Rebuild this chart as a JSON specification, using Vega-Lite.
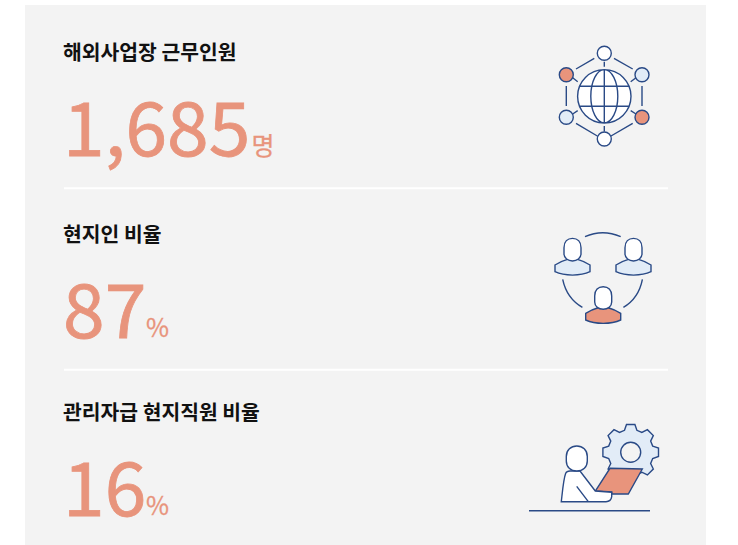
{"$schema":"https://vega.github.io/schema/vega-lite/v6.json","width":681,"height":540,"autosize":{"type":"none"},"padding":{"left":25,"top":5,"right":32,"bottom":0},"background":"#ffffff","view":{"fill":"#f3f3f3","stroke":null},"data":{"values":[{"order":1,"metric":"해외사업장 근무인원","value":1685,"unit":"명"},{"order":2,"metric":"현지인 비율","value":87,"unit":"%"},{"order":3,"metric":"관리자급 현지직원 비율","value":16,"unit":"%"}]},"encoding":{"y":{"field":"order","type":"quantitative","axis":null,"scale":{"domain":[1,2,3],"range":[55,236.5,414.5],"nice":false,"zero":false}}},"resolve":{"scale":{"x":"independent"}},"layer":[
{"transform":[{"filter":"datum.order<3"}],"mark":{"type":"rule","stroke":"#ffffff","strokeWidth":2,"yOffset":128.2},"encoding":{"x":{"datum":39,"type":"quantitative","axis":null,"scale":{"domain":[0,681],"range":[0,681]}},"x2":{"datum":643}}},
{"mark":{"type":"text","align":"left","baseline":"alphabetic","font":"Noto Sans CJK KR","fontSize":20.4,"fontWeight":700,"fill":"#111111"},"encoding":{"x":{"datum":38,"type":"quantitative","axis":null,"scale":{"domain":[0,681],"range":[0,681]}},"text":{"field":"metric"}}},
{"mark":{"type":"text","align":"left","baseline":"alphabetic","font":"Noto Sans CJK KR","fontSize":75,"fontWeight":400,"fill":"#e8947c","stroke":"#e8947c","strokeWidth":0.8,"dy":96},"encoding":{"x":{"datum":38,"type":"quantitative","axis":null,"scale":{"domain":[0,681],"range":[0,681]}},"text":{"field":"value","type":"quantitative","format":","}}},
{"mark":{"type":"text","align":"left","baseline":"alphabetic","font":"Noto Sans CJK KR","fontSize":25,"fontWeight":400,"fill":"#e8947c","stroke":"#e8947c","strokeWidth":0.3,"dy":95},"encoding":{"x":{"field":"value","type":"quantitative","axis":null,"scale":{"domain":[16,87,1685],"range":[121,121,226.5],"zero":false,"nice":false}},"text":{"field":"unit"}}},
{"transform":[{"filter":"datum.order===1"}],"mark":{"type":"point","size":4,"opacity":1,"filled":false,"stroke":"#2a4a86","strokeWidth":1.4,"yOffset":36.3,"shape":"M-10,-38L-28.3,-27.3M9.7,-38L28.4,-27.3M0,-34.6L0,-29.6M-31.6,-18.6L-26.6,-14.6M31.7,-18.6L26.4,-14.6M-38,-10.3L-38,9.7M37.7,-10.3L37.7,9.7M-31.6,17.7L-26.6,14.4M31.7,17.7L26.4,14.4M-7,39.7L-28.3,27M6.7,39.7L28.4,27M0,29.7L0,35.3"},"encoding":{"x":{"datum":579.3,"type":"quantitative","axis":null,"scale":{"domain":[0,681],"range":[0,681]}}}},
{"transform":[{"filter":"datum.order===1"}],"mark":{"type":"point","size":4,"opacity":1,"filled":true,"fill":"#ffffff","stroke":"#2a4a86","strokeWidth":1.4,"yOffset":36.3,"shape":"M-26.7,0A26.7,26.7 0 1 0 26.7,0A26.7,26.7 0 1 0 -26.7,0ZM0,-26.7A13.5,26.7 0 1 0 0,26.7A13.5,26.7 0 1 0 0,-26.7ZM0,-26.7L0,26.7M-24.8,-10L24.8,-10M-24.8,10L24.8,10"},"encoding":{"x":{"datum":579.3,"type":"quantitative","axis":null,"scale":{"domain":[0,681],"range":[0,681]}}}},
{"transform":[{"filter":"datum.order===1"}],"mark":{"type":"point","size":4,"opacity":1,"filled":true,"fill":"#ffffff","stroke":"#2a4a86","strokeWidth":1.4,"yOffset":36.3,"shape":"M-7,-43A7,7 0 1 0 7,-43A7,7 0 1 0 -7,-43ZM-7,42.7A7,7 0 1 0 7,42.7A7,7 0 1 0 -7,42.7Z"},"encoding":{"x":{"datum":579.3,"type":"quantitative","axis":null,"scale":{"domain":[0,681],"range":[0,681]}}}},
{"transform":[{"filter":"datum.order===1"}],"mark":{"type":"point","size":4,"opacity":1,"filled":true,"fill":"#e8947c","stroke":"#2a4a86","strokeWidth":1.4,"yOffset":36.3,"shape":"M-45,-21.6A7,7 0 1 0 -31,-21.6A7,7 0 1 0 -45,-21.6ZM30.7,21A7,7 0 1 0 44.7,21A7,7 0 1 0 30.7,21Z"},"encoding":{"x":{"datum":579.3,"type":"quantitative","axis":null,"scale":{"domain":[0,681],"range":[0,681]}}}},
{"transform":[{"filter":"datum.order===1"}],"mark":{"type":"point","size":4,"opacity":1,"filled":true,"fill":"#e2ecf7","stroke":"#2a4a86","strokeWidth":1.4,"yOffset":36.3,"shape":"M30.7,-21.6A7,7 0 1 0 44.7,-21.6A7,7 0 1 0 30.7,-21.6ZM-45,21A7,7 0 1 0 -31,21A7,7 0 1 0 -45,21Z"},"encoding":{"x":{"datum":579.3,"type":"quantitative","axis":null,"scale":{"domain":[0,681],"range":[0,681]}}}},
{"transform":[{"filter":"datum.order===2"}],"mark":{"type":"point","size":4,"opacity":1,"filled":false,"stroke":"#2a4a86","strokeWidth":1.4,"yOffset":35.2,"shape":"M-17.7,-40Q0,-48 18,-40M-40,2.7Q-36,21.7 -20.3,30.7M39.7,2.7Q36,21.7 20.7,30.7"},"encoding":{"x":{"datum":577.7,"type":"quantitative","axis":null,"scale":{"domain":[0,681],"range":[0,681]}}}},
{"transform":[{"filter":"datum.order===2"}],"mark":{"type":"point","size":4,"opacity":1,"filled":true,"fill":"#e2ecf7","stroke":"#2a4a86","strokeWidth":1.4,"yOffset":35.2,"xOffset":-30.2,"shape":"M-17.5,-11.7C-13,-14.5 -8,-16.5 -5,-17.3L5,-17.3C8,-16.5 13,-14.5 17.5,-11.7L17.5,-5C8,-0.5 -8,-0.5 -17.5,-5Z"},"encoding":{"x":{"datum":577.7,"type":"quantitative","axis":null,"scale":{"domain":[0,681],"range":[0,681]}}}},
{"transform":[{"filter":"datum.order===2"}],"mark":{"type":"point","size":4,"opacity":1,"filled":true,"fill":"#ffffff","stroke":"#2a4a86","strokeWidth":1.4,"yOffset":35.2,"xOffset":-30.2,"shape":"M-8.5,-29C-8.5,-35 -5,-38.3 0,-38.3C5,-38.3 8.5,-35 8.5,-29L8.5,-23C8.5,-18.5 4.5,-15.7 0,-15.7C-4.5,-15.7 -8.5,-18.5 -8.5,-23Z"},"encoding":{"x":{"datum":577.7,"type":"quantitative","axis":null,"scale":{"domain":[0,681],"range":[0,681]}}}},
{"transform":[{"filter":"datum.order===2"}],"mark":{"type":"point","size":4,"opacity":1,"filled":true,"fill":"#e2ecf7","stroke":"#2a4a86","strokeWidth":1.4,"yOffset":35.2,"xOffset":30.8,"shape":"M-17.5,-11.7C-13,-14.5 -8,-16.5 -5,-17.3L5,-17.3C8,-16.5 13,-14.5 17.5,-11.7L17.5,-5C8,-0.5 -8,-0.5 -17.5,-5Z"},"encoding":{"x":{"datum":577.7,"type":"quantitative","axis":null,"scale":{"domain":[0,681],"range":[0,681]}}}},
{"transform":[{"filter":"datum.order===2"}],"mark":{"type":"point","size":4,"opacity":1,"filled":true,"fill":"#ffffff","stroke":"#2a4a86","strokeWidth":1.4,"yOffset":35.2,"xOffset":30.8,"shape":"M-8.5,-29C-8.5,-35 -5,-38.3 0,-38.3C5,-38.3 8.5,-35 8.5,-29L8.5,-23C8.5,-18.5 4.5,-15.7 0,-15.7C-4.5,-15.7 -8.5,-18.5 -8.5,-23Z"},"encoding":{"x":{"datum":577.7,"type":"quantitative","axis":null,"scale":{"domain":[0,681],"range":[0,681]}}}},
{"transform":[{"filter":"datum.order===2"}],"mark":{"type":"point","size":4,"opacity":1,"filled":true,"fill":"#e8947c","stroke":"#2a4a86","strokeWidth":1.4,"yOffset":83.5,"xOffset":0.5,"shape":"M-17.5,-11.7C-13,-14.5 -8,-16.5 -5,-17.3L5,-17.3C8,-16.5 13,-14.5 17.5,-11.7L17.5,-5C8,-0.5 -8,-0.5 -17.5,-5Z"},"encoding":{"x":{"datum":577.7,"type":"quantitative","axis":null,"scale":{"domain":[0,681],"range":[0,681]}}}},
{"transform":[{"filter":"datum.order===2"}],"mark":{"type":"point","size":4,"opacity":1,"filled":true,"fill":"#ffffff","stroke":"#2a4a86","strokeWidth":1.4,"yOffset":83.5,"xOffset":0.5,"shape":"M-8.5,-29C-8.5,-35 -5,-38.3 0,-38.3C5,-38.3 8.5,-35 8.5,-29L8.5,-23C8.5,-18.5 4.5,-15.7 0,-15.7C-4.5,-15.7 -8.5,-18.5 -8.5,-23Z"},"encoding":{"x":{"datum":577.7,"type":"quantitative","axis":null,"scale":{"domain":[0,681],"range":[0,681]}}}},
{"transform":[{"filter":"datum.order===3"}],"mark":{"type":"point","size":4,"opacity":1,"filled":true,"fill":"#e2ecf7","stroke":"#2a4a86","strokeWidth":1.4,"yOffset":32.8,"xOffset":35.7,"shape":"M22,-6.2L27.8,-4.2 27.8,4.2 22,6.2 19.94,11.17 22.63,16.69 16.69,22.63 11.17,19.94 6.2,22 4.2,27.8 -4.2,27.8 -6.2,22 -11.17,19.94 -16.69,22.63 -22.63,16.69 -19.94,11.17 -22,6.2 -27.8,4.2 -27.8,-4.2 -22,-6.2 -19.94,-11.17 -22.63,-16.69 -16.69,-22.63 -11.17,-19.94 -6.2,-22 -4.2,-27.8 4.2,-27.8 6.2,-22 11.17,-19.94 16.69,-22.63 22.63,-16.69 19.94,-11.17Z"},"encoding":{"x":{"datum":570,"type":"quantitative","axis":null,"scale":{"domain":[0,681],"range":[0,681]}}}},
{"transform":[{"filter":"datum.order===3"}],"mark":{"type":"point","size":4,"opacity":1,"filled":true,"fill":"#f3f3f3","stroke":"#2a4a86","strokeWidth":1.4,"yOffset":32.8,"xOffset":35.7,"shape":"M-10,0A10,10 0 1 0 10,0A10,10 0 1 0 -10,0Z"},"encoding":{"x":{"datum":570,"type":"quantitative","axis":null,"scale":{"domain":[0,681],"range":[0,681]}}}},
{"transform":[{"filter":"datum.order===3"}],"mark":{"type":"point","size":4,"opacity":1,"filled":true,"fill":"#e8947c","stroke":"#2a4a86","strokeWidth":1.4,"yOffset":45.5,"shape":"M15,3.3L47.3,4L33.3,29L16.7,29L16.7,27L0.3,26Z"},"encoding":{"x":{"datum":570,"type":"quantitative","axis":null,"scale":{"domain":[0,681],"range":[0,681]}}}},
{"transform":[{"filter":"datum.order===3"}],"mark":{"type":"point","size":4,"opacity":1,"filled":true,"fill":"#ffffff","stroke":"#2a4a86","strokeWidth":1.4,"yOffset":45.5,"shape":"M-33.7,36.7C-32.5,26 -31.5,14 -29.3,8.3C-28.5,6.5 -26.5,6 -25,6L-15,6L0.3,26L16.7,27.3L16.7,31.7Q16,36.7 11,36.7ZM-18.3,21.3L-6.7,36.7"},"encoding":{"x":{"datum":570,"type":"quantitative","axis":null,"scale":{"domain":[0,681],"range":[0,681]}}}},
{"transform":[{"filter":"datum.order===3"}],"mark":{"type":"point","size":4,"opacity":1,"filled":true,"fill":"#ffffff","stroke":"#2a4a86","strokeWidth":1.4,"yOffset":45.5,"shape":"M-28.7,-8.5C-28.7,-15 -24,-19 -18.2,-19C-12.4,-19 -7.7,-15 -7.7,-8.5L-7.7,-4C-7.7,2 -12,6 -18.2,6C-24.4,6 -28.7,2 -28.7,-4Z"},"encoding":{"x":{"datum":570,"type":"quantitative","axis":null,"scale":{"domain":[0,681],"range":[0,681]}}}},
{"transform":[{"filter":"datum.order===3"}],"mark":{"type":"point","size":4,"opacity":1,"filled":false,"stroke":"#2a4a86","strokeWidth":1.4,"yOffset":45.5,"shape":"M-66,45.7L55,45.7"},"encoding":{"x":{"datum":570,"type":"quantitative","axis":null,"scale":{"domain":[0,681],"range":[0,681]}}}}
]}
